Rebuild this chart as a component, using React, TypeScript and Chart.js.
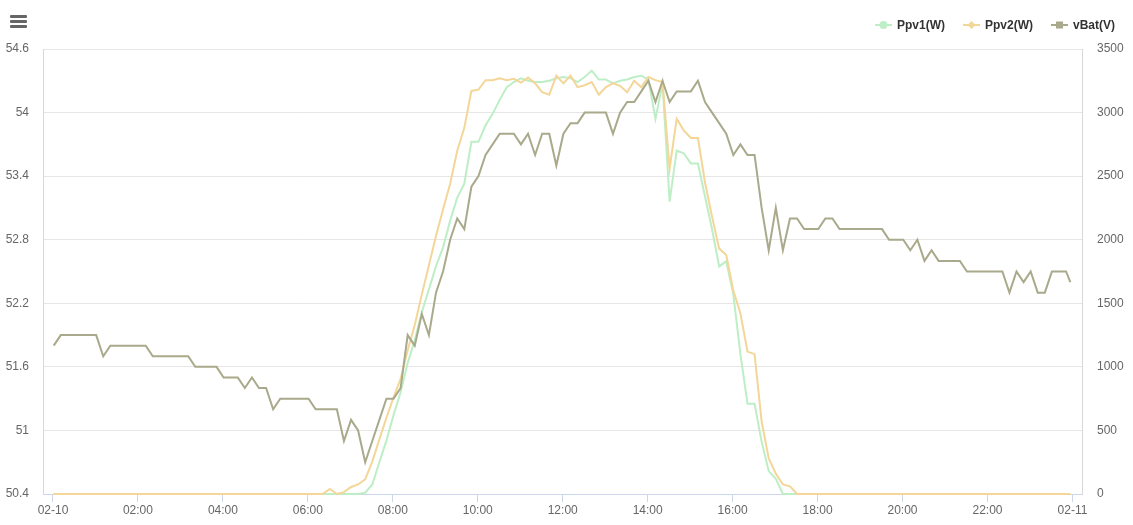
import { useEffect, useRef } from "react";
import { Chart, registerables } from "chart.js";

Chart.register(...registerables);

// Sample times in minutes after 02-10 00:00 (10-minute logging, last sample at 23:57)
const sampleMinutes: number[] = Array.from({ length: 144 }, (_, i) => 1 + 10 * i).concat([1437]);

const vBat = [
  51.8, 51.9, 51.9, 51.9, 51.9, 51.9, 51.9, 51.7, 51.8, 51.8, 51.8, 51.8,
  51.8, 51.8, 51.7, 51.7, 51.7, 51.7, 51.7, 51.7, 51.6, 51.6, 51.6, 51.6,
  51.5, 51.5, 51.5, 51.4, 51.5, 51.4, 51.4, 51.2, 51.3, 51.3, 51.3, 51.3,
  51.3, 51.2, 51.2, 51.2, 51.2, 50.9, 51.1, 51.0, 50.7, 50.9, 51.1, 51.3,
  51.3, 51.4, 51.9, 51.8, 52.1, 51.9, 52.3, 52.5, 52.8, 53.0, 52.9, 53.3,
  53.4, 53.6, 53.7, 53.8, 53.8, 53.8, 53.7, 53.8, 53.6, 53.8, 53.8, 53.5,
  53.8, 53.9, 53.9, 54.0, 54.0, 54.0, 54.0, 53.8, 54.0, 54.1, 54.1, 54.2,
  54.3, 54.1, 54.3, 54.1, 54.2, 54.2, 54.2, 54.3, 54.1, 54.0, 53.9, 53.8,
  53.6, 53.7, 53.6, 53.6, 53.1, 52.7, 53.1, 52.7, 53.0, 53.0, 52.9, 52.9,
  52.9, 53.0, 53.0, 52.9, 52.9, 52.9, 52.9, 52.9, 52.9, 52.9, 52.8, 52.8,
  52.8, 52.7, 52.8, 52.6, 52.7, 52.6, 52.6, 52.6, 52.6, 52.5, 52.5, 52.5,
  52.5, 52.5, 52.5, 52.3, 52.5, 52.4, 52.5, 52.3, 52.3, 52.5, 52.5, 52.5,
  52.4,
];

const ppv1 = [
  0, 0, 0, 0, 0, 0, 0, 0, 0, 0, 0, 0,
  0, 0, 0, 0, 0, 0, 0, 0, 0, 0, 0, 0,
  0, 0, 0, 0, 0, 0, 0, 0, 0, 0, 0, 0,
  0, 0, 0, 0, 0, 0, 0, 0, 10, 75, 250, 420,
  620, 800, 1030, 1210, 1430, 1610, 1790, 1940, 2150, 2330, 2440, 2770,
  2770, 2900, 2990, 3100, 3200, 3240, 3270, 3250, 3240, 3240, 3250, 3270,
  3280, 3270, 3240, 3280, 3330, 3260, 3260, 3230, 3250, 3260, 3280, 3290,
  3260, 2950, 3230, 2300, 2700, 2680, 2600, 2600, 2340, 2080, 1790, 1830,
  1570, 1100, 710, 710, 410, 180, 120, 0, 0, 0, 0, 0,
  0, 0, 0, 0, 0, 0, 0, 0, 0, 0, 0, 0,
  0, 0, 0, 0, 0, 0, 0, 0, 0, 0, 0, 0,
  0, 0, 0, 0, 0, 0, 0, 0, 0, 0, 0, 0,
  0,
];

const ppv2 = [
  0, 0, 0, 0, 0, 0, 0, 0, 0, 0, 0, 0,
  0, 0, 0, 0, 0, 0, 0, 0, 0, 0, 0, 0,
  0, 0, 0, 0, 0, 0, 0, 0, 0, 0, 0, 0,
  0, 0, 0, 40, 0, 15, 55, 75, 115, 255, 430, 600,
  760, 905, 1130, 1330, 1570, 1800, 2030, 2240, 2440, 2700, 2880, 3170,
  3180, 3255, 3255, 3270, 3255, 3265, 3235, 3275, 3230, 3160, 3140, 3290,
  3230, 3290, 3200, 3215, 3240, 3140, 3200, 3230, 3210, 3160, 3250, 3200,
  3280, 3255, 3240, 2560, 2950, 2860, 2800, 2800, 2450, 2180, 1930, 1880,
  1600, 1420, 1120, 1100, 570, 280, 160, 75, 60, 0, 0, 0,
  0, 0, 0, 0, 0, 0, 0, 0, 0, 0, 0, 0,
  0, 0, 0, 0, 0, 0, 0, 0, 0, 0, 0, 0,
  0, 0, 0, 0, 0, 0, 0, 0, 0, 0, 0, 0,
  0,
];

const xTickMinutes = [0, 120, 240, 360, 480, 600, 720, 840, 960, 1080, 1200, 1320, 1440];
const xTickLabels = ["02-10", "02:00", "04:00", "06:00", "08:00", "10:00", "12:00", "14:00", "16:00", "18:00", "20:00", "22:00", "02-11"];
const leftTicks = [50.4, 51, 51.6, 52.2, 52.8, 53.4, 54, 54.6];
const leftTickLabels = ["50.4", "51", "51.6", "52.2", "52.8", "53.4", "54", "54.6"];
const rightTicks = [0, 500, 1000, 1500, 2000, 2500, 3000, 3500];
const rightTickLabels = ["0", "500", "1000", "1500", "2000", "2500", "3000", "3500"];

const seriesNames = ["Ppv1(W)", "Ppv2(W)", "vBat(V)"];
const seriesColors = ["#bdeec6", "#f3d698", "#a9a98b"];
const markerShapes = ["circle", "diamond", "square"];

const FONT = "'Liberation Sans', Arial, sans-serif";

function LegendSymbol({ color, shape }: { color: string; shape: string }) {
  return (
    <svg width={17} height={10} style={{ display: "block" }}>
      <line x1={0} y1={5} x2={17} y2={5} stroke={color} strokeWidth={2} />
      {shape === "circle" && <circle cx={8.5} cy={5} r={4} fill={color} />}
      {shape === "diamond" && <path d="M8.5 1 L12.5 5 L8.5 9 L4.5 5 Z" fill={color} />}
      {shape === "square" && <rect x={5} y={1.5} width={7} height={7} fill={color} />}
    </svg>
  );
}

export default function App() {
  const canvasRef = useRef<HTMLCanvasElement>(null);

  useEffect(() => {
    const toPoints = (arr: number[]) => arr.map((v, i) => ({ x: sampleMinutes[i], y: v }));
    const chart = new Chart(canvasRef.current!, {
      type: "line",
      data: {
        datasets: [
          {
            label: seriesNames[0],
            data: toPoints(ppv1),
            yAxisID: "y2",
            borderColor: seriesColors[0],
            backgroundColor: seriesColors[0],
            borderWidth: 2,
            pointRadius: 0,
            tension: 0,
            order: 2,
            clip: { left: 1, top: 1, right: 1, bottom: 2 },
          },
          {
            label: seriesNames[1],
            data: toPoints(ppv2),
            yAxisID: "y2",
            borderColor: seriesColors[1],
            backgroundColor: seriesColors[1],
            borderWidth: 2,
            pointRadius: 0,
            tension: 0,
            order: 1,
            clip: { left: 1, top: 1, right: 1, bottom: 2 },
          },
          {
            label: seriesNames[2],
            data: toPoints(vBat),
            yAxisID: "y",
            borderColor: seriesColors[2],
            backgroundColor: seriesColors[2],
            borderWidth: 2,
            pointRadius: 0,
            tension: 0,
            order: 0,
          },
        ],
      },
      options: {
        animation: false,
        responsive: false,
        maintainAspectRatio: false,
        layout: { padding: { top: 49, left: 0, right: 0, bottom: 0 } },
        plugins: { legend: { display: false }, tooltip: { enabled: false } },
        scales: {
          x: {
            type: "linear",
            min: -14.1,
            max: 1453.5,
            afterBuildTicks: (s: any) => {
              s.ticks = xTickMinutes.map((v) => ({ value: v }));
            },
            afterFit: (s: any) => {
              s.height = 31;
            },
            grid: { drawOnChartArea: false, drawTicks: true, tickLength: 8, color: "#ccd6eb" },
            border: { color: "#ccd6eb", width: 1 },
            ticks: {
              autoSkip: false,
              maxRotation: 0,
              padding: 1,
              color: "#666666",
              font: { family: FONT, size: 12 },
              callback: (_v: any, i: number) => xTickLabels[i],
            },
          },
          y: {
            position: "left",
            min: 50.4,
            max: 54.6,
            afterBuildTicks: (s: any) => {
              s.ticks = leftTicks.map((v) => ({ value: v }));
            },
            afterFit: (s: any) => {
              s.width = 43;
            },
            grid: { color: "#e6e6e6", drawTicks: false },
            border: { color: "#d8d8d8" },
            ticks: {
              padding: 14,
              color: "#666666",
              font: { family: FONT, size: 12 },
              callback: (_v: any, i: number) => leftTickLabels[i],
            },
          },
          y2: {
            position: "right",
            min: 0,
            max: 3500,
            afterBuildTicks: (s: any) => {
              s.ticks = rightTicks.map((v) => ({ value: v }));
            },
            afterFit: (s: any) => {
              s.width = 51;
            },
            grid: { drawOnChartArea: false, drawTicks: false },
            border: { color: "#d8d8d8" },
            ticks: {
              padding: 15,
              color: "#666666",
              font: { family: FONT, size: 12 },
              callback: (_v: any, i: number) => rightTickLabels[i],
            },
          },
        },
      },
    });
    return () => chart.destroy();
  }, []);

  return (
    <div
      style={{
        position: "absolute",
        left: 0,
        top: 0,
        width: 1133,
        height: 525,
        background: "#ffffff",
        overflow: "hidden",
      }}
    >
      <canvas ref={canvasRef} width={1133} height={525} style={{ position: "absolute", left: 0, top: 0 }} />
      {[15, 20, 25].map((t) => (
        <div
          key={t}
          style={{ position: "absolute", left: 10, top: t, width: 17, height: 3, background: "#666666", borderRadius: 1 }}
        />
      ))}
      <div
        style={{
          position: "absolute",
          right: 18,
          top: 18,
          display: "flex",
          alignItems: "center",
          gap: 18,
          fontFamily: FONT,
          fontWeight: "bold",
          fontSize: 12,
          lineHeight: "14px",
          color: "#333333",
        }}
      >
        {seriesNames.map((name, i) => (
          <div key={name} style={{ display: "flex", alignItems: "center", gap: 5 }}>
            <LegendSymbol color={seriesColors[i]} shape={markerShapes[i]} />
            <span>{name}</span>
          </div>
        ))}
      </div>
    </div>
  );
}
